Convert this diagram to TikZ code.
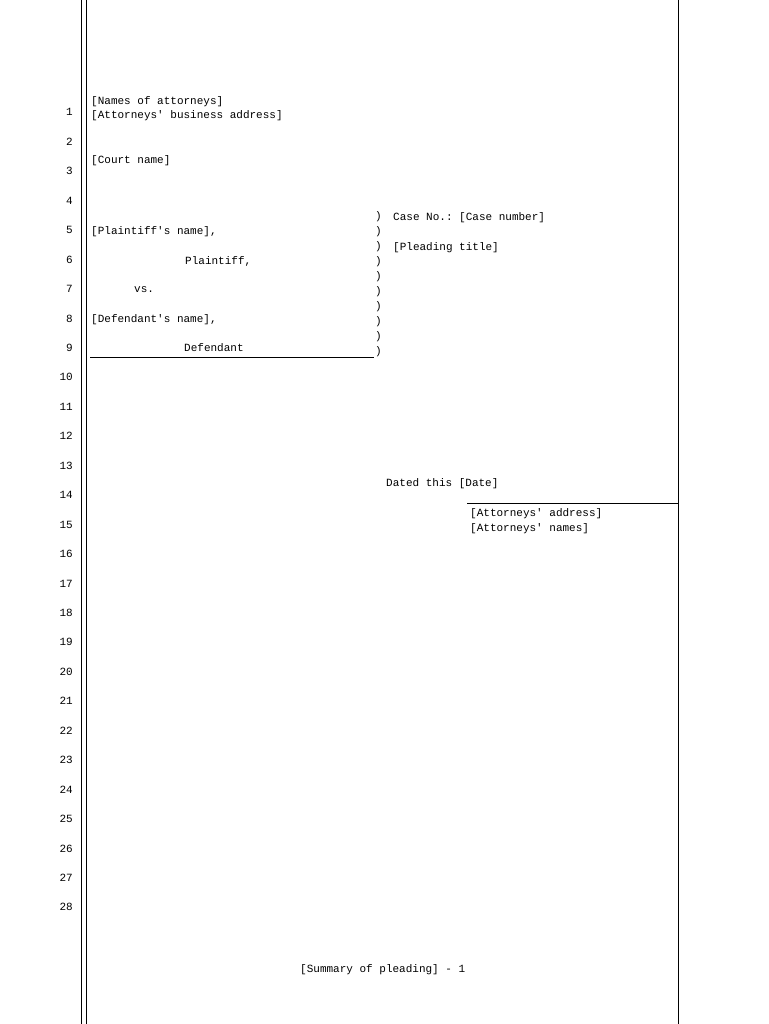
\documentclass[tikz,border=0pt]{standalone}
\usepackage{fontspec}
\setmonofont{Liberation Mono}
\begin{document}
\begin{tikzpicture}[x=1pt,y=-1pt,
  txt/.style={font=\ttfamily\fontsize{11}{12}\selectfont,anchor=base west,inner sep=0},
  num/.style={font=\ttfamily\fontsize{11}{12}\selectfont,anchor=base east,inner sep=0},
  rule/.style={line width=0.9pt}]
\useasboundingbox[fill=white] (0,0) rectangle (768,1024);
\draw[rule] (81,0) -- (81,1024);
\draw[rule] (86,0) -- (86,1024);
\draw[rule] (678,0) -- (678,1024);
\foreach \i in {1,...,28} {
  \node[num] (n\i) at (73,{116+(\i-1)*29.44}) {\i};
}
\node[txt] (att) at (91,105) {[Names of attorneys]};
\node[txt] (addr) at (91,119) {[Attorneys' business address]};
\node[txt] (court) at (91,164) {[Court name]};
\node[txt] (pl) at (91,234) {[Plaintiff's name],};
\node[txt] (pl2) at (185,264) {Plaintiff,};
\node[txt] (vs) at (134,292) {vs.};
\node[txt] (df) at (91,322) {[Defendant's name],};
\node[txt] (df2) at (184,351) {Defendant};
\coordinate (ca) at (90,357); \coordinate (cb) at (374,357);
\draw[line width=0.7pt] (ca) -- (cb);
\foreach \k in {0,...,9} {
  \node[txt] (p\k) at (375,{220+\k*14.9}) {)};
}
\node[txt] (case) at (393,221) {Case No.: [Case number]};
\node[txt] (title) at (393,251) {[Pleading title]};
\node[txt] (dated) at (386,486) {Dated this [Date]};
\coordinate (sa) at (467,503); \coordinate (sb) at (678,503);
\draw[line width=0.7pt] (sa) -- (sb);
\node[txt] (aa) at (470,516) {[Attorneys' address]};
\node[txt] (an) at (470,531) {[Attorneys' names]};
\node[txt] (sum) at (300,972) {[Summary of pleading] - 1};
\end{tikzpicture}
\end{document}
